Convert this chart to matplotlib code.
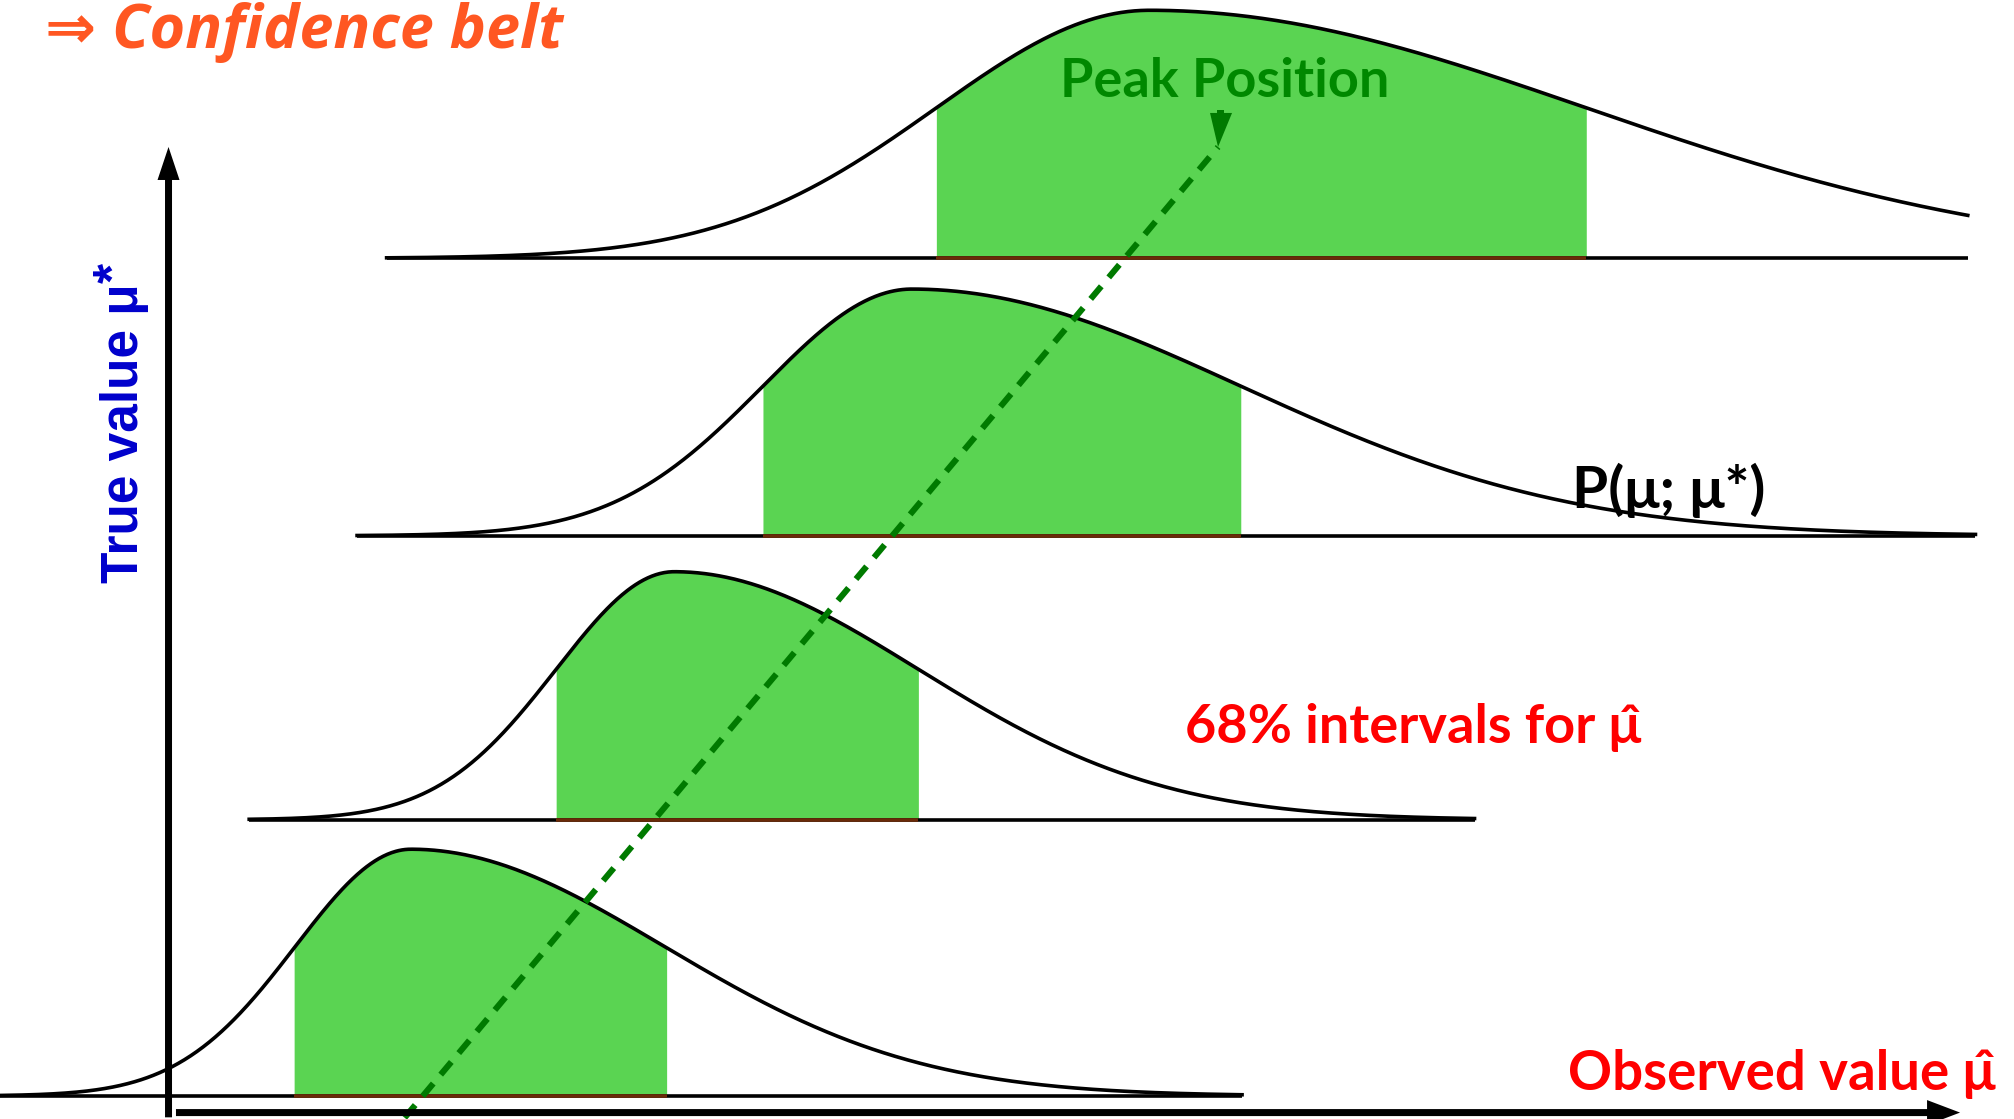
import numpy as np
import matplotlib
matplotlib.use("Agg")
import matplotlib.pyplot as plt
from matplotlib.patches import Polygon, FancyArrow

# Sampling densities P(mu_hat; mu*) for four true values, drawn as split-normal shapes
baselines = [0.18, 2.33, 4.54, 6.70]
peaks = [3.20, 5.25, 7.10, 8.95]
heights = [1.92, 1.93, 1.92, 1.93]
sigma_left = [0.90, 0.92, 1.16, 1.66]
sigma_right = [1.97, 1.90, 2.56, 3.40]
x_start = [0.00, 1.94, 2.78, 3.01]
x_end = [9.67, 11.48, 15.38, 15.32]
# 68% interval edges on the observed axis
band_lo = [2.29, 4.33, 5.94, 7.29]
band_hi = [5.19, 7.15, 9.66, 12.35]

# Dashed guide through the peak positions
peak_line_x = [3.15, 9.483]
peak_line_y = [0.01, 7.566]

# Coordinate axes (observed value horizontal, true value vertical)
x_axis = dict(x0=1.37, x1=15.26, y=0.05)
y_axis = dict(y0=0.013, y1=7.566, x=1.312)

GREEN_FILL = "#5AD452"
DARK_GREEN = "#007A00"
LW = 2.6

fig = plt.figure(figsize=(20.14, 11.19), dpi=100)
ax = fig.add_axes([0, 0, 1, 1])
ax.set_xlim(0, 15.68)
ax.set_ylim(0, 8.71)
ax.axis("off")


def density(x, base, peak, h, sl, sr):
    s = np.where(x < peak, sl, sr)
    return base + h * np.exp(-0.5 * ((x - peak) / s) ** 2)


for b, p, h, sl, sr, x0, x1, lo, hi in zip(baselines, peaks, heights, sigma_left,
                                            sigma_right, x_start, x_end, band_lo, band_hi):
    xb = np.linspace(lo, hi, 400)
    ax.fill_between(xb, b, density(xb, b, p, h, sl, sr), color=GREEN_FILL, lw=0, zorder=1)
    ax.plot([x0, x1], [b, b], color="black", lw=LW, zorder=2, solid_capstyle="butt")
    ax.plot([lo, hi], [b, b], color="#6A2A08", lw=LW, zorder=2.1, solid_capstyle="butt")
    xc = np.linspace(x0, x1, 1200)
    ax.plot(xc, density(xc, b, p, h, sl, sr), color="black", lw=LW, zorder=3)

# peak-position guide with its arrowhead
ax.plot(peak_line_x, peak_line_y, color=DARK_GREEN, lw=4.4,
        linestyle=(0, (2.7, 1.9)), zorder=4)
px = 1 / 128.44  # one pixel in data units
tx, ty = peak_line_x[-1], peak_line_y[-1]
ax.add_patch(Polygon([[tx, ty], [tx - 8 * px, ty + 34 * px], [tx + 14 * px, ty + 34 * px]],
                     closed=True, color=DARK_GREEN, lw=0, zorder=4))
ax.add_patch(Polygon([[tx - 1 * px, ty + 33 * px], [tx + 6 * px, ty + 33 * px],
                      [tx + 6 * px, ty + 37 * px], [tx - 1 * px, ty + 37 * px]],
                     closed=True, color=DARK_GREEN, lw=0, zorder=4))

# axes arrows
ax.add_patch(FancyArrow(y_axis["x"], y_axis["y0"], 0, y_axis["y1"] - y_axis["y0"],
                        width=7 * px, head_width=22 * px, head_length=33 * px,
                        length_includes_head=True, color="black", lw=0, zorder=5))
ax.add_patch(FancyArrow(x_axis["x0"], x_axis["y"], x_axis["x1"] - x_axis["x0"], 0,
                        width=7 * px, head_width=25 * px, head_length=33 * px,
                        length_includes_head=True, color="black", lw=0, zorder=5))

# labels
ax.text(0.35, 8.335, "⇒ Confidence belt", color="#FF5722", fontsize=44,
        family=["Open Sans", "DejaVu Sans"], fontweight="bold", fontstyle="italic",
        ha="left", va="baseline", zorder=6)
ax.text(9.538, 7.955, "Peak Position", color="#008800", fontsize=39,
        family=["Lato", "DejaVu Sans"], fontweight="bold", ha="center", va="baseline",
        zorder=6)
ax.text(1.074, 4.171, "True value μ", color="#0000CC", fontsize=37,
        family=["Liberation Sans", "DejaVu Sans"], fontweight="bold",
        rotation=90, rotation_mode="anchor", ha="left", va="baseline", zorder=6)
ax.text(0.90, 6.585, "*", color="#0000CC", fontsize=37,
        family=["Liberation Sans", "DejaVu Sans"], fontweight="bold",
        rotation=90, rotation_mode="anchor", ha="center", va="center", zorder=6)
ax.text(12.239, 4.755, "P(μ; μ*)", color="black", fontsize=42,
        family=["Lato", "DejaVu Sans"], fontweight="bold",
        ha="left", va="baseline", zorder=6)
ax.text(9.226, 2.925, "68% intervals for μ\u0302", color="#FF0000", fontsize=39,
        family=["Lato", "DejaVu Sans"], fontweight="bold",
        ha="left", va="baseline", zorder=6)
ax.text(12.21, 0.225, "Observed value μ\u0302", color="#FF0000", fontsize=39.3,
        family=["Lato", "DejaVu Sans"], fontweight="bold",
        ha="left", va="baseline", zorder=6)

fig.savefig("out.png", dpi=100)
